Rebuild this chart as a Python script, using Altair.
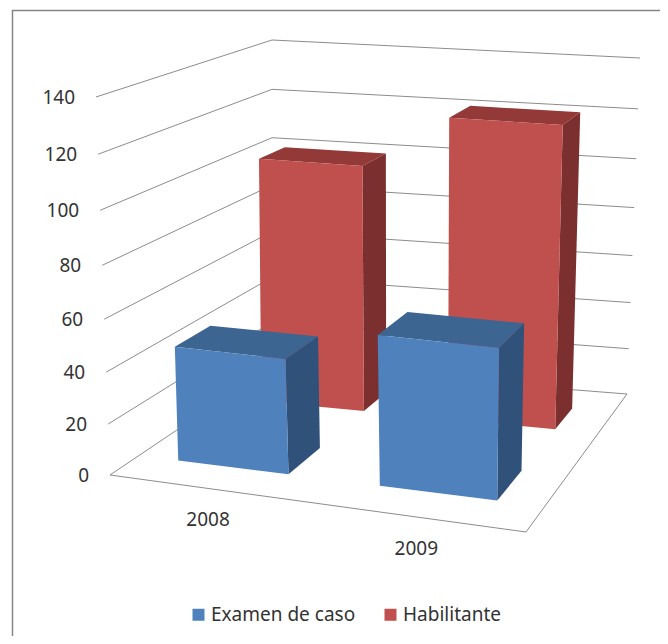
import numpy as np
import pandas as pd
import altair as alt

# ---- chart values ----
categories = ["2008", "2009"]
series_names = ["Examen de caso", "Habilitante"]
examen = [45, 58]
habilitante = [101, 122]
tick_values = [0, 20, 40, 60, 80, 100, 120, 140]

# ---- look of the chart ----
FONT = "Noto Sans"
TEXT = "#333333"
GRID = "#8c8c8c"
FILLS = {
    "Examen de caso": "#4f81bd", "Examen top": "#3d6592", "Examen side": "#30527a",
    "Habilitante": "#c0504d", "Habilitante top": "#933a39", "Habilitante side": "#7b2f2e",
}

# ---- the 3D box: floor and ceiling planes, from the corners of the plot ----
FLOOR = [(110, 475), (526, 532), (627, 394), (272, 366)]
CEILING = [(96, 97), (534, 137), (640, 58), (272, 40)]
VMAX = 140
FORESHORTEN = 0.07


def homography(q):
    A, b = [], []
    for (u, v), (sx, sy) in zip([(0, 0), (1, 0), (1, 1), (0, 1)], q):
        A.append([u, v, 1, 0, 0, 0, -sx * u, -sx * v])
        b.append(sx)
        A.append([0, 0, 0, u, v, 1, -sy * u, -sy * v])
        b.append(sy)
    return np.append(np.linalg.solve(np.array(A, float), np.array(b, float)), 1.0).reshape(3, 3)


HF, HC = homography(FLOOR), homography(CEILING)


def project(u, v, w):
    pf = HF @ np.array([u, v, 1.0])
    pc = HC @ np.array([u, v, 1.0])
    pf, pc = pf[:2] / pf[2], pc[:2] / pc[2]
    s = w / VMAX
    t = s / (1 + FORESHORTEN * (1 - s))
    p = pf + (pc - pf) * t
    return float(p[0]), float(p[1])


# ---- bar footprints in box units ----
CAT_SPANS = [(0.113, 0.41), (0.635, 0.90)]
DEPTH_SPANS = {"Examen de caso": (0.152, 0.352), "Habilitante": (0.665, 0.84)}

rows = []
pid = 0


def face(name, pts):
    global pid
    for i, p in enumerate(pts + pts[:1]):
        x, y = project(*p)
        rows.append({"poly": pid, "i": i, "x": x, "y": y, "fillname": name})
    pid += 1


for sname, vals in (("Habilitante", habilitante), ("Examen de caso", examen)):
    short = sname.split()[0]
    v0, v1 = DEPTH_SPANS[sname]
    for (u0, u1), h in zip(CAT_SPANS, vals):
        face(f"{short} top", [(u0, v0, h), (u1, v0, h), (u1, v1, h), (u0, v1, h)])
        face(f"{short} side", [(u1, v0, 0), (u1, v1, 0), (u1, v1, h), (u1, v0, h)])
        face(sname, [(u0, v0, 0), (u1, v0, 0), (u1, v0, h), (u0, v0, h)])
bars = pd.DataFrame(rows)

grid_rows = []
for t in tick_values:
    for i, (u, v) in enumerate([(0, 0), (0, 1), (1, 1)]):
        x, y = project(u, v, t)
        grid_rows.append({"line": f"g{t}", "i": i, "x": x, "y": y})
for i, (u, v) in enumerate([(0, 0), (1, 0), (1, 1)]):
    x, y = project(u, v, 0)
    grid_rows.append({"line": "floor", "i": i, "x": x, "y": y})
grid = pd.DataFrame(grid_rows)

tick_df = pd.DataFrame(
    [dict(zip("xy", project(0, 0, t)), label=str(t)) for t in tick_values]
)
cat_df = pd.DataFrame(
    [dict(zip("xy", project(u, 0, 0)), label=c) for u, c in zip((0.27, 0.77), categories)]
)
RIGHT = 660
BOTTOM = 636
frame_df = pd.DataFrame({"x": [12.5, 12.5, RIGHT], "y": [BOTTOM, 10.5, 10.5], "i": [0, 1, 2]})

X = alt.X("x:Q", scale=alt.Scale(domain=[8, RIGHT]), axis=None)
Y = alt.Y("y:Q", scale=alt.Scale(domain=[BOTTOM, 8]), axis=None)

frame = alt.Chart(frame_df).mark_line(color="#868686", strokeWidth=1.5).encode(X, Y, order="i:Q")
grid_layer = alt.Chart(grid).mark_line(color=GRID, strokeWidth=1).encode(X, Y, detail="line:N", order="i:Q")
bar_layer = (
    alt.Chart(bars)
    .mark_line(strokeWidth=0, fillOpacity=1)
    .encode(
        X, Y, detail="poly:N", order="i:Q",
        fill=alt.Fill(
            "fillname:N",
            scale=alt.Scale(domain=list(FILLS), range=list(FILLS.values())),
            legend=alt.Legend(
                values=series_names, title=None, orient="none", legendX=181, legendY=597,
                direction="horizontal", columns=2, columnPadding=25, symbolType="square",
                symbolSize=144, symbolStrokeWidth=0, labelFont=FONT, labelFontSize=19,
                labelColor=TEXT, labelOffset=3, symbolOpacity=1,
            ),
        ),
    )
)
ticks = (
    alt.Chart(tick_df)
    .mark_text(align="right", baseline="middle", dx=-21, dy=1, font=FONT, fontSize=19, color=TEXT)
    .encode(X, Y, text="label:N")
)
cats = (
    alt.Chart(cat_df)
    .mark_text(align="center", baseline="middle", dy=32, font=FONT, fontSize=19, color=TEXT)
    .encode(X, Y, text="label:N")
)

chart = (
    alt.layer(frame, grid_layer, bar_layer, ticks, cats)
    .properties(width=652, height=628, padding=0, autosize=alt.AutoSizeParams(type="none"), background="white")
    .configure_view(stroke=None)
)
chart.save("out.html", embed_options={"renderer": "svg", "actions": False})
